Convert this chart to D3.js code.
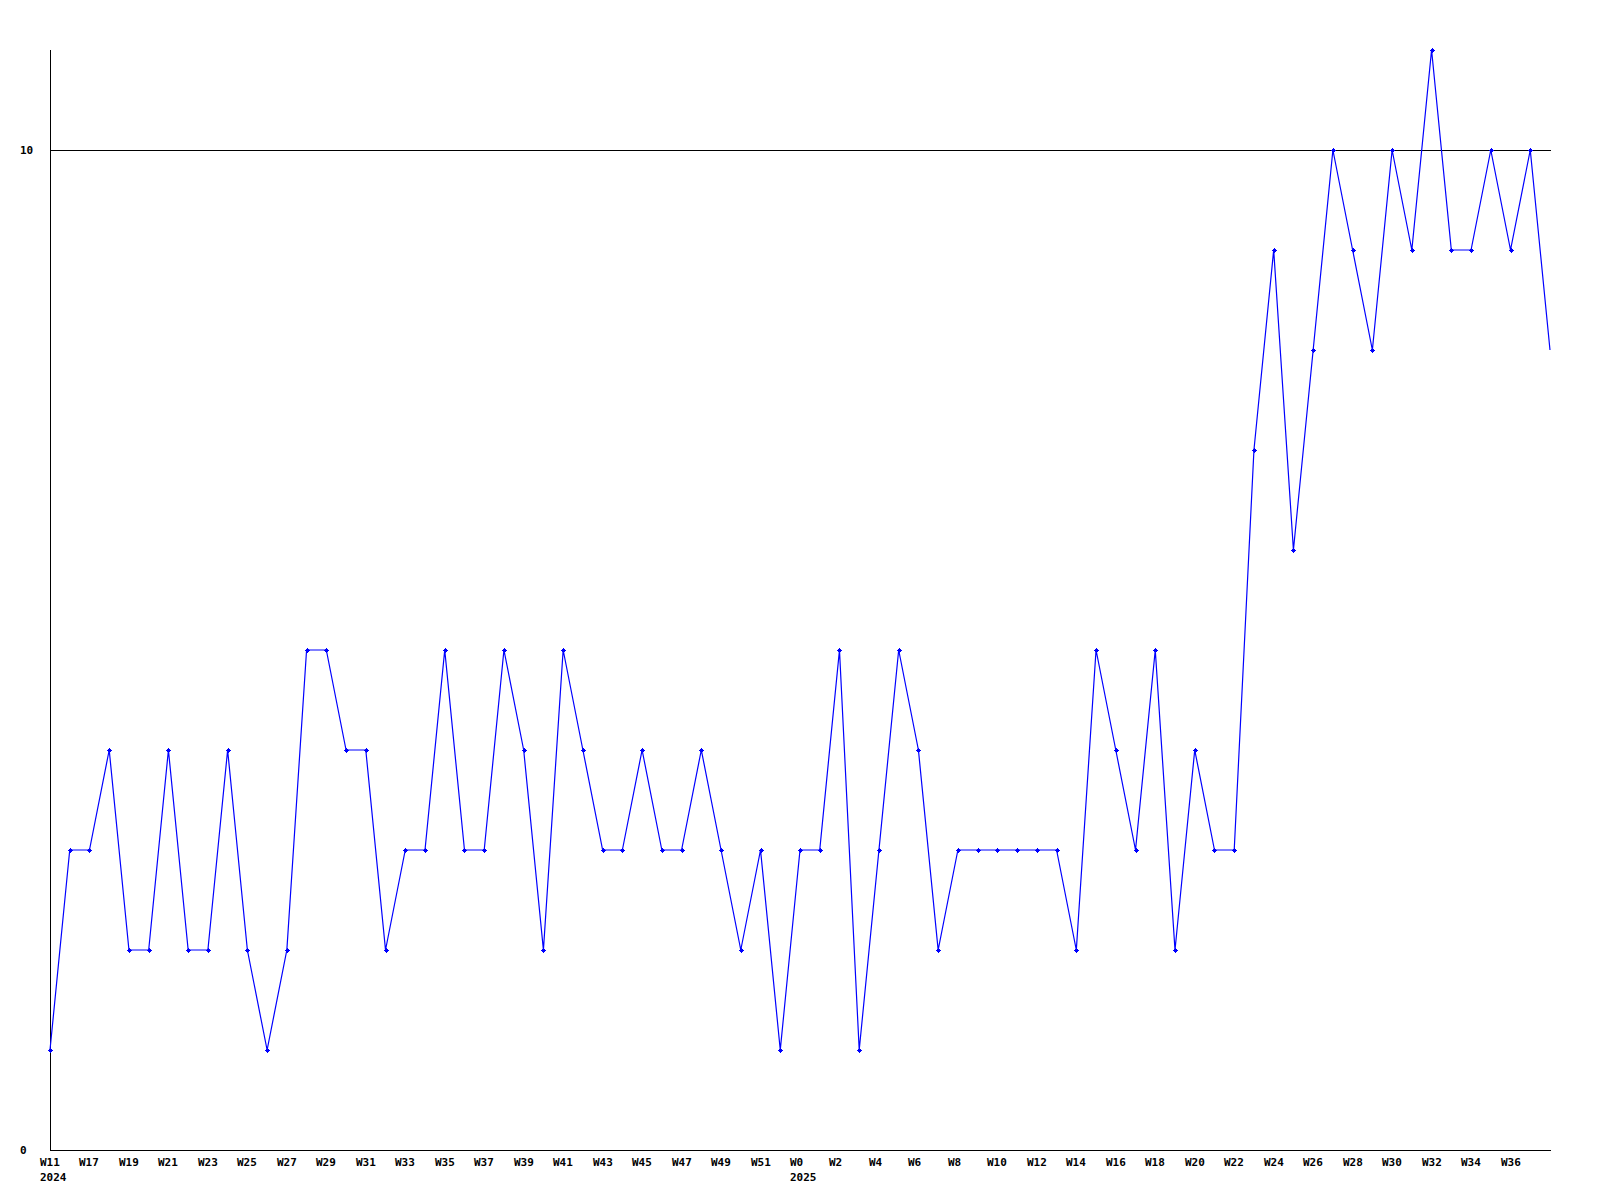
<!DOCTYPE html>
<html>
<head>
<meta charset="utf-8">
<script src="https://cdn.jsdelivr.net/npm/d3@7"></script>
<style>
  html, body { margin: 0; padding: 0; background: #fff; }
  svg text { font-family: "DejaVu Sans Mono", "Liberation Mono", monospace; font-weight: bold; font-size: 11px; fill: #000; }
</style>
</head>
<body>
<svg id="chart" width="1600" height="1200"></svg>
<script>
// Week labels for each point
const weeks = ["W11"]
  .concat(d3.range(16, 53).map(w => "W" + w))
  .concat(d3.range(0, 39).map(w => "W" + w));
// Year labels (index of first point of each year)
const yearLabels = [{ index: 0, label: "2024" }, { index: 38, label: "2025" }];
// Series values
const values = [
  1, 3, 3, 4, 2, 2, 4, 2, 2, 4,
  2, 1, 2, 5, 5, 4, 4, 2, 3, 3,
  5, 3, 3, 5, 4, 2, 5, 4, 3, 3,
  4, 3, 3, 4, 3, 2, 3, 1, 3, 3,
  5, 1, 3, 5, 4, 2, 3, 3, 3, 3,
  3, 3, 2, 5, 4, 3, 5, 2, 4, 3,
  3, 7, 9, 6, 8, 10, 9, 8, 10, 9,
  11, 9, 9, 10, 9, 10, 8
];
const yTicks = [0, 10];

const svg = d3.select("#chart");
const x = d3.scaleLinear().domain([0, values.length - 1]).range([50, 1550]);
const y = d3.scaleLinear().domain([0, 11]).range([1150, 50]);

// Horizontal gridline at 10
svg.selectAll("line.grid").data(yTicks.filter(t => t > 0)).enter().append("line")
  .attr("x1", 50).attr("x2", 1551).attr("y1", d => y(d) + 0.5).attr("y2", d => y(d) + 0.5)
  .attr("stroke", "#000").attr("stroke-width", 1).attr("shape-rendering", "crispEdges");

// Axes lines
svg.append("line").attr("x1", 50.5).attr("x2", 50.5).attr("y1", 50).attr("y2", 1151)
  .attr("stroke", "#000").attr("shape-rendering", "crispEdges");
svg.append("line").attr("x1", 50).attr("x2", 1551).attr("y1", 1150.5).attr("y2", 1150.5)
  .attr("stroke", "#000").attr("shape-rendering", "crispEdges");

// Y tick labels
svg.selectAll("text.ylab").data(yTicks).enter().append("text")
  .attr("x", 20).attr("y", d => y(d)).attr("dy", "0.35em").text(d => d);

// X tick labels (every second point, last one omitted)
const labIdx = d3.range(0, values.length - 1, 2);
svg.selectAll("text.xlab").data(labIdx).enter().append("text")
  .attr("x", d => Math.round(x(d)) - 10).attr("y", 1162).attr("dy", "0.35em")
  .text(d => weeks[d]);
svg.selectAll("text.year").data(yearLabels).enter().append("text")
  .attr("x", d => Math.round(x(d.index)) - 10).attr("y", 1177).attr("dy", "0.35em")
  .text(d => d.label);

// Line
const line = d3.line().x((d, i) => x(i)).y(d => y(d));
svg.append("path").datum(values).attr("d", line)
  .attr("fill", "none").attr("stroke", "#0000ff").attr("stroke-width", 1.2);

// Markers (all but last)
const mk = svg.append("g").attr("fill", "#0000ff");
values.slice(0, -1).forEach((v, i) => {
  const cx = Math.round(x(i)), cy = Math.round(y(v));
  mk.append("rect").attr("x", cx - 2).attr("y", cy).attr("width", 5).attr("height", 1);
  mk.append("rect").attr("x", cx).attr("y", cy - 2).attr("width", 1).attr("height", 5);
  mk.append("rect").attr("x", cx - 1).attr("y", cy - 1).attr("width", 3).attr("height", 3);
});
</script>
</body>
</html>
